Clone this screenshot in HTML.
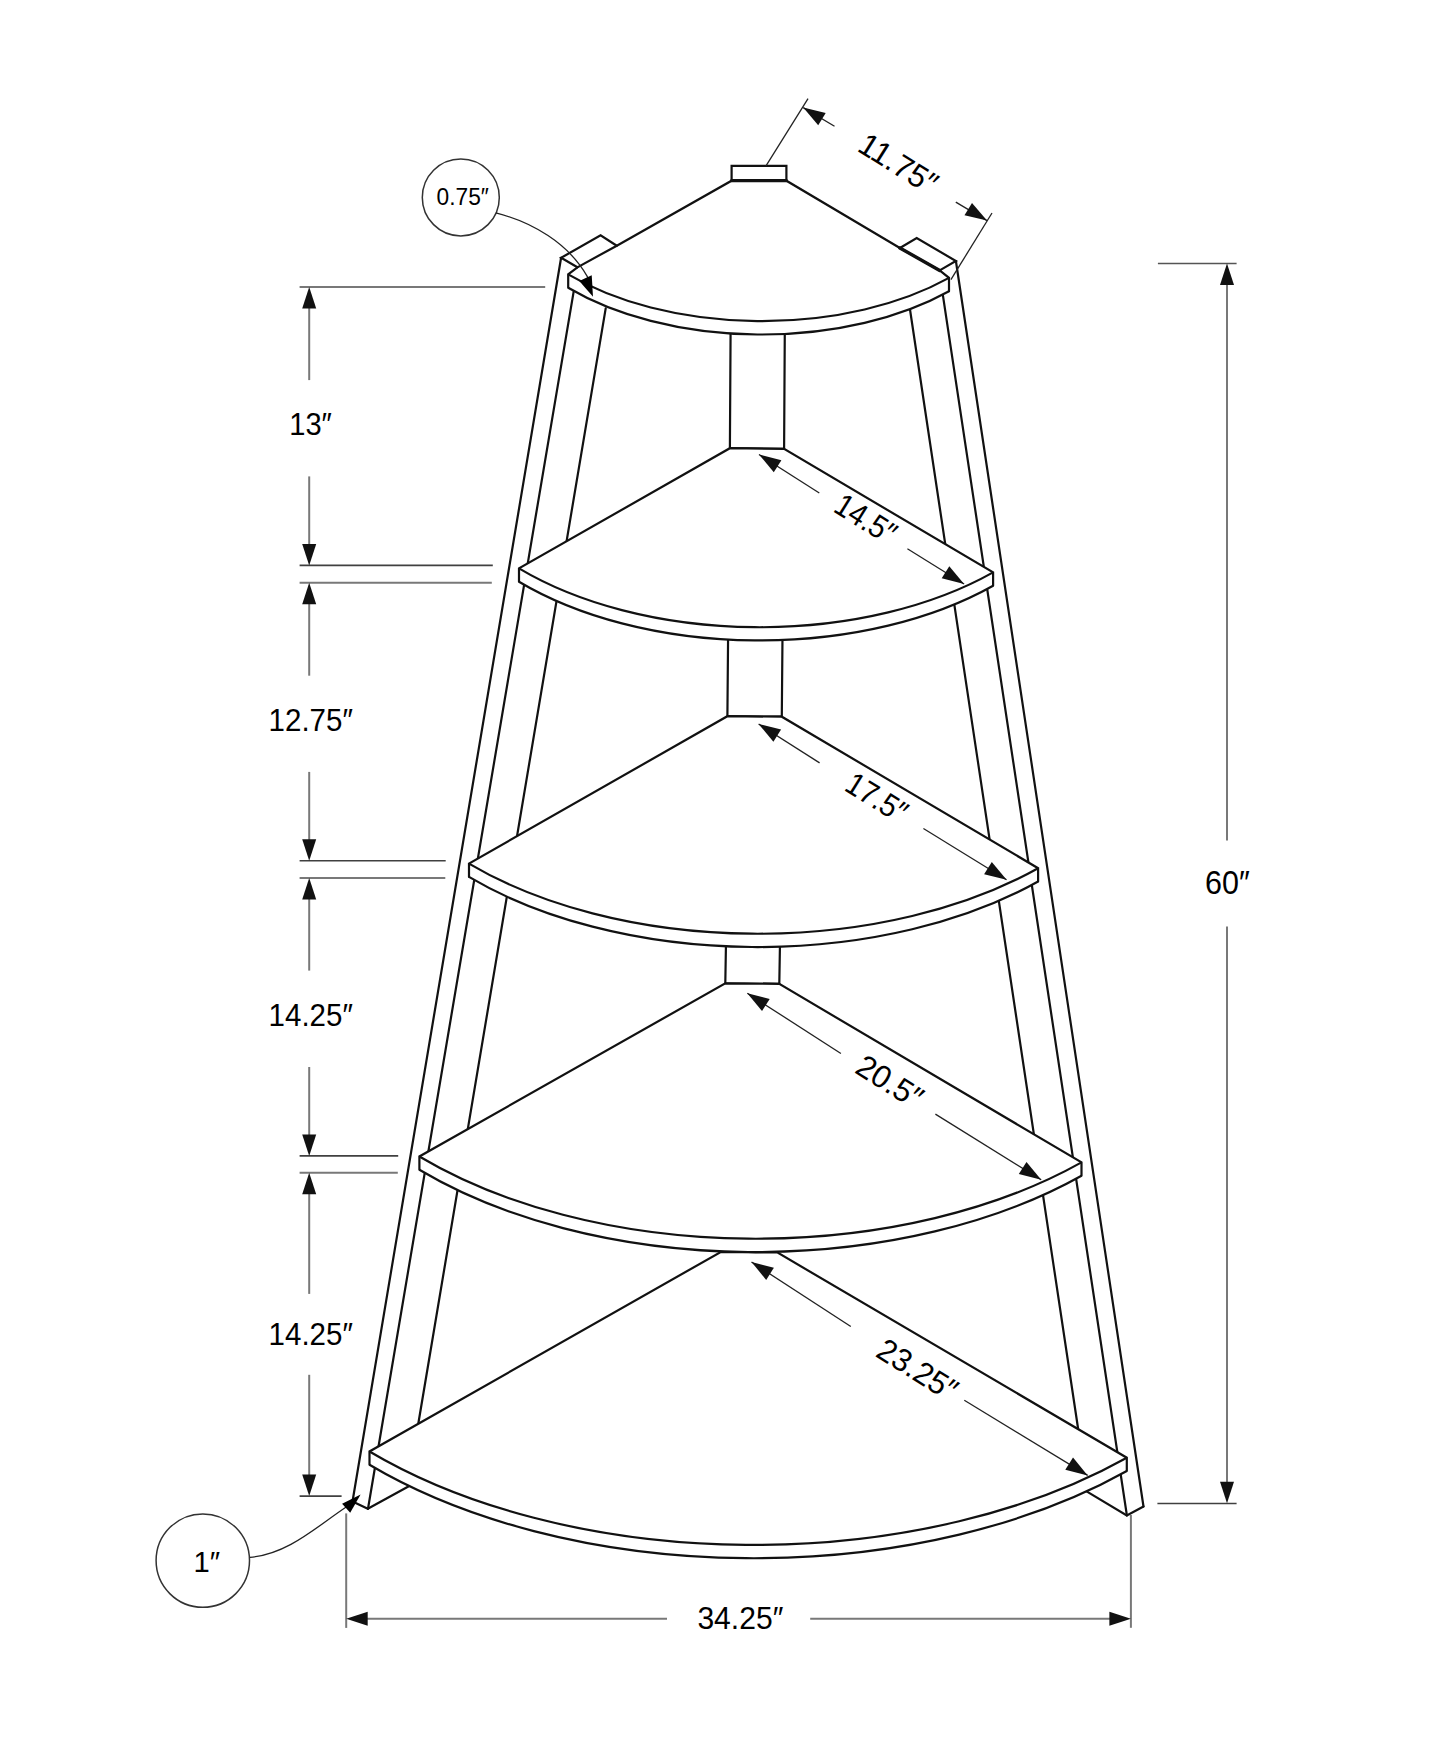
<!DOCTYPE html>
<html><head><meta charset="utf-8"><style>html,body{margin:0;padding:0;background:#fff;width:1445px;height:1754px;overflow:hidden}svg{display:block;font-family:"Liberation Sans",sans-serif}</style></head><body>
<svg width="1445" height="1754" viewBox="0 0 1445 1754">
<rect width="1445" height="1754" fill="#fff"/>
<line x1="573.7" y1="291.4" x2="368" y2="1508.8" stroke="#111" stroke-width="2.2" stroke-linecap="round"/>
<line x1="605.7" y1="308.4" x2="416.9" y2="1432" stroke="#111" stroke-width="2.2" stroke-linecap="round"/>
<line x1="942.8" y1="294.7" x2="1126.9" y2="1515.5" stroke="#111" stroke-width="2.2" stroke-linecap="round"/>
<line x1="910" y1="309.5" x2="1079.2" y2="1436" stroke="#111" stroke-width="2.2" stroke-linecap="round"/>
<path d="M352.5 1501.5 L367.8 1508.8 L412 1484.5" stroke="#111" stroke-width="2.2" fill="none" stroke-linejoin="miter" stroke-linecap="round"/>
<path d="M1143.5 1506.5 L1126.8 1515.5 L1082 1488.6" stroke="#111" stroke-width="2.2" fill="none" stroke-linejoin="miter" stroke-linecap="round"/>
<path d="M730.6 329.4 L729.9 448.2 L784.1 448.9 L784.8 329.6" stroke="#111" stroke-width="2.2" fill="none" stroke-linejoin="miter" stroke-linecap="round"/>
<path d="M728.1 635.5 L727.4 716.2 L781.8 716.7 L782.5 635.7" stroke="#111" stroke-width="2.2" fill="none" stroke-linejoin="miter" stroke-linecap="round"/>
<path d="M726 942.3 L725.3 983.3 L779.3 983.9 L780 942.4" stroke="#111" stroke-width="2.2" fill="none" stroke-linejoin="miter" stroke-linecap="round"/>
<path d="M369.5 1451.5 L720.7 1252 L777.2 1252.4 L1126.8 1457.7 L1126.8 1471 A535.5 308.3 0 0 1 369.5 1464.8 L369.5 1451.5 Z" fill="#fff" stroke="none"/>
<path d="M369.5 1464.8 L369.5 1451.5 L720.7 1252 L777.2 1252.4 L1126.8 1457.7 L1126.8 1457.7 L1126.8 1471" stroke="#111" stroke-width="2.2" fill="none" stroke-linejoin="miter" stroke-linecap="round"/>
<path d="M369.5 1451.5 A535.5 308.3 0 0 0 1126.8 1457.7" fill="none" stroke="#111" stroke-width="2.2"/>
<path d="M369.5 1464.8 A535.5 308.3 0 0 0 1126.8 1471" fill="none" stroke="#111" stroke-width="2.2"/>
<path d="M419.4 1156.5 L725.3 983.3 L779.3 983.9 L1081.5 1162.4 L1081.5 1175.7 A468.2 270.6 0 0 1 419.4 1169.8 L419.4 1156.5 Z" fill="#fff" stroke="none"/>
<path d="M419.4 1169.8 L419.4 1156.5 L725.3 983.3 L779.3 983.9 L1081.5 1162.4 L1081.5 1162.4 L1081.5 1175.7" stroke="#111" stroke-width="2.2" fill="none" stroke-linejoin="miter" stroke-linecap="round"/>
<path d="M419.4 1156.5 A468.2 270.6 0 0 0 1081.5 1162.4" fill="none" stroke="#111" stroke-width="2.2"/>
<path d="M419.4 1169.8 A468.2 270.6 0 0 0 1081.5 1175.7" fill="none" stroke="#111" stroke-width="2.2"/>
<path d="M469 863.6 L727.4 716.2 L781.8 716.7 L1038.1 868.2 L1038.1 881.5 A402.4 231.5 0 0 1 469 876.9 L469 863.6 Z" fill="#fff" stroke="none"/>
<path d="M469 876.9 L469 863.6 L727.4 716.2 L781.8 716.7 L1038.1 868.2 L1038.1 868.2 L1038.1 881.5" stroke="#111" stroke-width="2.2" fill="none" stroke-linejoin="miter" stroke-linecap="round"/>
<path d="M469 863.6 A402.4 231.5 0 0 0 1038.1 868.2" fill="none" stroke="#111" stroke-width="2.2"/>
<path d="M469 876.9 A402.4 231.5 0 0 0 1038.1 881.5" fill="none" stroke="#111" stroke-width="2.2"/>
<path d="M519 568.4 L729.9 448.2 L784.1 448.9 L993.1 572.4 L993.1 585.7 A335.2 193.6 0 0 1 519 581.7 L519 568.4 Z" fill="#fff" stroke="none"/>
<path d="M519 581.7 L519 568.4 L729.9 448.2 L784.1 448.9 L993.1 572.4 L993.1 572.4 L993.1 585.7" stroke="#111" stroke-width="2.2" fill="none" stroke-linejoin="miter" stroke-linecap="round"/>
<path d="M519 568.4 A335.2 193.9 0 0 0 993.1 572.4" fill="none" stroke="#111" stroke-width="2.2"/>
<path d="M519 581.7 A335.2 193.6 0 0 0 993.1 585.7" fill="none" stroke="#111" stroke-width="2.2"/>
<path d="M568.2 274.4 L577.4 267.3 L616.8 245.7 L731.6 180.7 L786.4 180.7 L899.9 248 L939.7 270.4 L949 277.9 L949 291.2 A269.3 153.8 0 0 1 568.2 287.7 L568.2 274.4 Z" fill="#fff" stroke="none"/>
<path d="M568.2 287.7 L568.2 274.4 L577.4 267.3 L616.8 245.7 L731.6 180.7 L786.4 180.7 L899.9 248 L939.7 270.4 L949 277.9 L949 277.9 L949 291.2" stroke="#111" stroke-width="2.2" fill="none" stroke-linejoin="miter" stroke-linecap="round"/>
<path d="M568.2 274.4 A269.3 153.8 0 0 0 949 277.9" fill="none" stroke="#111" stroke-width="2.2"/>
<path d="M568.2 287.7 A269.3 153.8 0 0 0 949 291.2" fill="none" stroke="#111" stroke-width="2.2"/>
<line x1="561.1" y1="257.8" x2="352.5" y2="1501.5" stroke="#111" stroke-width="2.2" stroke-linecap="round"/>
<line x1="955.9" y1="261" x2="1143.5" y2="1506.5" stroke="#111" stroke-width="2.2" stroke-linecap="round"/>
<path d="M731.6 180.7 L731.6 165.8 L786.4 165.8 L786.4 180.7" stroke="#111" stroke-width="2.2" fill="none" stroke-linejoin="miter" stroke-linecap="round"/>
<line x1="731.6" y1="180.7" x2="786.4" y2="180.7" stroke="#111" stroke-width="3.2" stroke-linecap="round"/>
<path d="M577.4 267.3 L561.1 257.8 L600.6 235.4 L616.8 245.7" stroke="#111" stroke-width="2.2" fill="none" stroke-linejoin="miter" stroke-linecap="round"/>
<path d="M899.9 248 L916.7 238 L955.9 261 L939.7 270.4" stroke="#111" stroke-width="2.2" fill="none" stroke-linejoin="miter" stroke-linecap="round"/>
<line x1="899.9" y1="248" x2="939.7" y2="270.4" stroke="#111" stroke-width="3.4" stroke-linecap="round"/>
<line x1="299.6" y1="287.1" x2="545.2" y2="287.1" stroke="#787878" stroke-width="2.0" stroke-linecap="butt"/>
<line x1="299.6" y1="565.4" x2="492.8" y2="565.4" stroke="#404040" stroke-width="1.6" stroke-linecap="butt"/>
<line x1="299.6" y1="582.7" x2="491.8" y2="582.7" stroke="#787878" stroke-width="2.0" stroke-linecap="butt"/>
<line x1="299.6" y1="860.7" x2="445.7" y2="860.7" stroke="#404040" stroke-width="1.6" stroke-linecap="butt"/>
<line x1="299.6" y1="877.9" x2="445.3" y2="877.9" stroke="#787878" stroke-width="2.0" stroke-linecap="butt"/>
<line x1="299.6" y1="1155.9" x2="398.2" y2="1155.9" stroke="#404040" stroke-width="1.6" stroke-linecap="butt"/>
<line x1="299.6" y1="1172.7" x2="397.8" y2="1172.7" stroke="#787878" stroke-width="2.0" stroke-linecap="butt"/>
<line x1="299.6" y1="1496.1" x2="341.6" y2="1496.1" stroke="#404040" stroke-width="1.6" stroke-linecap="butt"/>
<line x1="309.2" y1="302.1" x2="309.2" y2="380.1" stroke="#787878" stroke-width="2.0" stroke-linecap="butt"/>
<line x1="309.2" y1="476.4" x2="309.2" y2="550.5" stroke="#787878" stroke-width="2.0" stroke-linecap="butt"/>
<path d="M309.2 287.1 L316.2 308.6 L302.2 308.6 Z" fill="#111"/>
<path d="M309.2 565.5 L302.2 544 L316.2 544 Z" fill="#111"/>
<line x1="309.2" y1="597.7" x2="309.2" y2="675.7" stroke="#787878" stroke-width="2.0" stroke-linecap="butt"/>
<line x1="309.2" y1="771.9" x2="309.2" y2="845.7" stroke="#787878" stroke-width="2.0" stroke-linecap="butt"/>
<path d="M309.2 582.7 L316.2 604.2 L302.2 604.2 Z" fill="#111"/>
<path d="M309.2 860.7 L302.2 839.2 L316.2 839.2 Z" fill="#111"/>
<line x1="309.2" y1="892.9" x2="309.2" y2="970.6" stroke="#787878" stroke-width="2.0" stroke-linecap="butt"/>
<line x1="309.2" y1="1067" x2="309.2" y2="1140.9" stroke="#787878" stroke-width="2.0" stroke-linecap="butt"/>
<path d="M309.2 877.9 L316.2 899.4 L302.2 899.4 Z" fill="#111"/>
<path d="M309.2 1155.9 L302.2 1134.4 L316.2 1134.4 Z" fill="#111"/>
<line x1="309.2" y1="1187.7" x2="309.2" y2="1293.9" stroke="#787878" stroke-width="2.0" stroke-linecap="butt"/>
<line x1="309.2" y1="1374.8" x2="309.2" y2="1481" stroke="#787878" stroke-width="2.0" stroke-linecap="butt"/>
<path d="M309.2 1172.7 L316.2 1194.2 L302.2 1194.2 Z" fill="#111"/>
<path d="M309.2 1496 L302.2 1474.5 L316.2 1474.5 Z" fill="#111"/>
<line x1="1157.9" y1="263.5" x2="1236.6" y2="263.5" stroke="#555" stroke-width="1.7" stroke-linecap="butt"/>
<line x1="1157.4" y1="1503.5" x2="1236.6" y2="1503.5" stroke="#404040" stroke-width="1.6" stroke-linecap="butt"/>
<line x1="1227" y1="278" x2="1227" y2="840.5" stroke="#787878" stroke-width="2.0" stroke-linecap="butt"/>
<line x1="1227" y1="926.6" x2="1227" y2="1490" stroke="#787878" stroke-width="2.0" stroke-linecap="butt"/>
<path d="M1227 263.5 L1234 285 L1220 285 Z" fill="#111"/>
<path d="M1227 1503.2 L1220 1481.7 L1234 1481.7 Z" fill="#111"/>
<line x1="346.2" y1="1513.4" x2="346.2" y2="1627.9" stroke="#787878" stroke-width="2.0" stroke-linecap="butt"/>
<line x1="1130.9" y1="1515" x2="1130.9" y2="1627.8" stroke="#787878" stroke-width="2.0" stroke-linecap="butt"/>
<line x1="360" y1="1618.8" x2="667" y2="1618.8" stroke="#787878" stroke-width="2.0" stroke-linecap="butt"/>
<line x1="810.2" y1="1618.8" x2="1117" y2="1618.8" stroke="#787878" stroke-width="2.0" stroke-linecap="butt"/>
<path d="M346.2 1618.8 L367.7 1611.8 L367.7 1625.8 Z" fill="#111"/>
<path d="M1130.9 1618.8 L1109.4 1625.8 L1109.4 1611.8 Z" fill="#111"/>
<line x1="803.2" y1="107.6" x2="834.5" y2="126.3" stroke="#222" stroke-width="1.3" stroke-linecap="butt"/>
<line x1="955.8" y1="202.1" x2="987" y2="220.6" stroke="#222" stroke-width="1.3" stroke-linecap="butt"/>
<path d="M803.2 107.6 L825.7 113 L818.2 125.3 Z" fill="#111"/>
<path d="M987 220.6 L964.5 215.2 L972 202.9 Z" fill="#111"/>
<line x1="759" y1="454.5" x2="819.3" y2="493" stroke="#222" stroke-width="1.3" stroke-linecap="butt"/>
<line x1="907.4" y1="548.7" x2="964.1" y2="584" stroke="#222" stroke-width="1.3" stroke-linecap="butt"/>
<path d="M759 454.5 L781.4 460.2 L773.8 472.3 Z" fill="#111"/>
<path d="M964.1 584 L941.7 578.3 L949.3 566.2 Z" fill="#111"/>
<line x1="758.6" y1="724" x2="819.6" y2="762.9" stroke="#222" stroke-width="1.3" stroke-linecap="butt"/>
<line x1="923.4" y1="828.5" x2="1006.6" y2="879.8" stroke="#222" stroke-width="1.3" stroke-linecap="butt"/>
<path d="M758.6 724 L781.1 729.6 L773.4 741.8 Z" fill="#111"/>
<path d="M1006.6 879.8 L984.1 874.2 L991.8 862 Z" fill="#111"/>
<line x1="747.3" y1="993.2" x2="840.9" y2="1053.5" stroke="#222" stroke-width="1.3" stroke-linecap="butt"/>
<line x1="935.4" y1="1114.1" x2="1041.2" y2="1179.8" stroke="#222" stroke-width="1.3" stroke-linecap="butt"/>
<path d="M747.3 993.2 L769.7 998.9 L762 1011.1 Z" fill="#111"/>
<path d="M1041.2 1179.8 L1018.8 1174.1 L1026.5 1161.9 Z" fill="#111"/>
<line x1="751.5" y1="1262" x2="850.8" y2="1326.5" stroke="#222" stroke-width="1.3" stroke-linecap="butt"/>
<line x1="964.3" y1="1400.3" x2="1087.7" y2="1475.4" stroke="#222" stroke-width="1.3" stroke-linecap="butt"/>
<path d="M751.5 1262 L773.9 1267.7 L766.2 1279.9 Z" fill="#111"/>
<path d="M1087.7 1475.4 L1065.3 1469.7 L1073 1457.5 Z" fill="#111"/>
<line x1="808" y1="98.7" x2="766" y2="165.8" stroke="#222" stroke-width="1.3" stroke-linecap="butt"/>
<line x1="992" y1="213" x2="950.9" y2="279.7" stroke="#222" stroke-width="1.3" stroke-linecap="butt"/>
<circle cx="460.8" cy="197.4" r="38.5" fill="none" stroke="#333" stroke-width="1.5"/>
<path d="M495.8 212.9 C532 222 568.3 243.1 587.2 276.4 L589 281" fill="none" stroke="#222" stroke-width="1.3"/>
<path d="M593 296.8 L579.3 281 L591.7 275.2 Z" fill="#000"/>
<circle cx="202.8" cy="1560.6" r="46.7" fill="none" stroke="#333" stroke-width="1.5"/>
<path d="M249.9 1557.4 C287.9 1554.2 316.2 1527 346.2 1507" fill="none" stroke="#222" stroke-width="1.3"/>
<path d="M360.6 1494.4 L342.1 1503.8 L350.2 1512.8 Z" fill="#000"/>
<text x="289.2" y="435" font-family="Liberation Sans" font-size="31.3" textLength="42.7" lengthAdjust="spacingAndGlyphs">13″</text>
<text x="268.6" y="730.9" font-family="Liberation Sans" font-size="32" textLength="84.3" lengthAdjust="spacingAndGlyphs">12.75″</text>
<text x="268.6" y="1025.6" font-family="Liberation Sans" font-size="31.5" textLength="84.3" lengthAdjust="spacingAndGlyphs">14.25″</text>
<text x="268.6" y="1344.7" font-family="Liberation Sans" font-size="31.4" textLength="84.3" lengthAdjust="spacingAndGlyphs">14.25″</text>
<text x="1205" y="894" font-family="Liberation Sans" font-size="32.8" textLength="44.7" lengthAdjust="spacingAndGlyphs">60″</text>
<text x="697.4" y="1629.1" font-family="Liberation Sans" font-size="32.1" textLength="85.9" lengthAdjust="spacingAndGlyphs">34.25″</text>
<text x="436.6" y="205.4" font-family="Liberation Sans" font-size="23.3" textLength="52.3" lengthAdjust="spacingAndGlyphs">0.75″</text>
<text x="193.6" y="1572.3" font-family="Liberation Sans" font-size="30.4" textLength="26.6" lengthAdjust="spacingAndGlyphs">1″</text>
<text x="898.3" y="174.6" font-family="Liberation Sans" font-size="32" textLength="86" lengthAdjust="spacingAndGlyphs" text-anchor="middle" transform="rotate(32 898.3 163.6)">11.75″</text>
<text x="865.7" y="529.9" font-family="Liberation Sans" font-size="32" textLength="66" lengthAdjust="spacingAndGlyphs" text-anchor="middle" transform="rotate(32 865.7 518.9)">14.5″</text>
<text x="876.7" y="808.6" font-family="Liberation Sans" font-size="32" textLength="66" lengthAdjust="spacingAndGlyphs" text-anchor="middle" transform="rotate(32 876.7 797.6)">17.5″</text>
<text x="889.8" y="1092.8" font-family="Liberation Sans" font-size="32" textLength="72" lengthAdjust="spacingAndGlyphs" text-anchor="middle" transform="rotate(32 889.8 1081.8)">20.5″</text>
<text x="917.5" y="1380.7" font-family="Liberation Sans" font-size="32" textLength="88" lengthAdjust="spacingAndGlyphs" text-anchor="middle" transform="rotate(32 917.5 1369.7)">23.25″</text>
</svg>
</body></html>
